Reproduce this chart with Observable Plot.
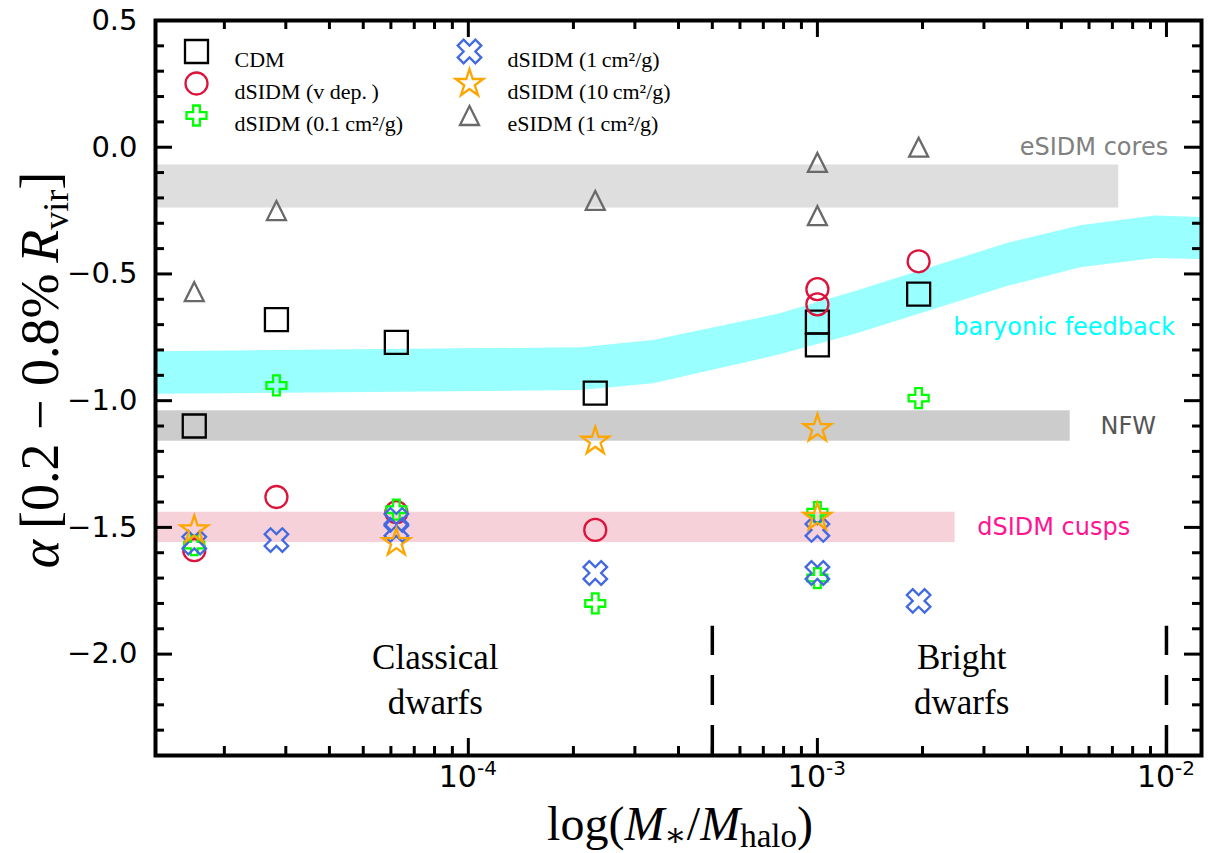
<!DOCTYPE html>
<html>
<head>
<meta charset="utf-8">
<script src="https://cdn.jsdelivr.net/npm/d3@7"></script>
<script src="https://cdn.jsdelivr.net/npm/@observablehq/plot@0.6"></script>
<style>
  body { margin: 0; background: #fff; }
  #chart svg { display: block; }
</style>
</head>
<body>
<div id="chart"></div>
<script>
// ---- Inner-slope measurements, alpha at 0.2-0.8% R_vir, vs stellar-to-halo mass ratio ----
const cdmRatio  = [1.64e-5, 2.82e-5, 6.22e-5, 2.31e-4, 1.0e-3, 1.0e-3, 1.95e-3];
const cdmAlpha  = [-1.10, -0.68, -0.77, -0.97, -0.69, -0.78, -0.58];

const vdepRatio = [1.64e-5, 2.82e-5, 6.22e-5, 2.31e-4, 1.0e-3, 1.0e-3, 1.95e-3];
const vdepAlpha = [-1.59, -1.38, -1.44, -1.51, -0.56, -0.62, -0.45];

const s01Ratio  = [1.64e-5, 2.82e-5, 6.22e-5, 2.31e-4, 1.0e-3, 1.0e-3, 1.95e-3];
const s01Alpha  = [-1.57, -0.94, -1.43, -1.80, -1.44, -1.70, -0.99];

const s1Ratio   = [1.64e-5, 2.82e-5, 6.22e-5, 6.22e-5, 2.31e-4, 1.0e-3, 1.0e-3, 1.95e-3];
const s1Alpha   = [-1.56, -1.55, -1.47, -1.51, -1.68, -1.51, -1.68, -1.79];

const s10Ratio  = [1.64e-5, 6.22e-5, 2.31e-4, 1.0e-3, 1.0e-3];
const s10Alpha  = [-1.51, -1.56, -1.16, -1.11, -1.46];

const eRatio    = [1.64e-5, 2.82e-5, 2.31e-4, 1.0e-3, 1.0e-3, 1.95e-3];
const eAlpha    = [-0.57, -0.25, -0.21, -0.06, -0.27, 0.00];

// Baryonic-feedback expectation (shaded band)
const baryRatio = [1.25e-5, 2.11e-4, 3.39e-4, 7.78e-4, 1.30e-3, 3.48e-3, 5.68e-3, 9.29e-3, 1.41e-2];
const baryLow   = [-0.975, -0.960, -0.933, -0.820, -0.736, -0.551, -0.476, -0.439, -0.445];
const baryHigh  = [-0.807, -0.791, -0.763, -0.658, -0.567, -0.381, -0.310, -0.271, -0.279];

// Reference slope ranges
const bandName  = ["eSIDM cores", "NFW", "dSIDM cusps"];
const bandLow   = [-0.24, -1.16, -1.56];
const bandHigh  = [-0.07, -1.04, -1.44];
const bandEnd   = [7.3e-3, 5.3e-3, 2.48e-3];

// Band annotations
const noteText  = ["eSIDM cores", "baryonic feedback", "NFW", "dSIDM cusps"];
const noteRatio = [3.8e-3, 2.45e-3, 6.47e-3, 2.87e-3];
const noteAlpha = [0.0, -0.71, -1.10, -1.50];

// Dwarf classes and their boundaries
const regionText  = ["Classical\ndwarfs", "Bright\ndwarfs"];
const regionRatio = [8.04e-5, 2.59e-3];
const regionAlpha = [-2.09, -2.09];
const boundaryRatio = [5.0e-4, 1.0e-2];
const boundaryTop = -1.89;

// Axis ticks
const xMajor = [1e-4, 1e-3, 1e-2];
const xMajorExp = ["-4", "-3", "-2"];
const yMajor = [-2.0, -1.5, -1.0, -0.5, 0.0, 0.5];
const yMajorLabel = ["\u22122.0", "\u22121.5", "\u22121.0", "\u22120.5", "0.0", "0.5"];

const legendLabels = ["CDM", "dSIDM (v dep.\u2009)", "dSIDM (0.1\u2009cm\u00B2/g)",
                      "dSIDM (1\u2009cm\u00B2/g)", "dSIDM (10\u2009cm\u00B2/g)", "eSIDM (1\u2009cm\u00B2/g)"];

// ---- layout ----
const W = 1208, H = 853;
const mL = 155, mR = 7, mT = 20, mB = 98;
const frameW = W - mL - mR, frameH = H - mT - mB;
const xDomain = [1.27e-5, 1.26e-2];
const yDomain = [-2.4, 0.5];

// ---- marker shapes (size = pi r^2) ----
const rad = (size) => Math.sqrt(size / Math.PI);
function polygon(ctx, pts) {
  ctx.moveTo(pts[0][0], pts[0][1]);
  for (let i = 1; i < pts.length; ++i) ctx.lineTo(pts[i][0], pts[i][1]);
  ctx.closePath();
}
function plusPoints(r, rot) {
  const w = r / 3;
  const base = [[w,-r],[w,-w],[r,-w],[r,w],[w,w],[w,r],[-w,r],[-w,w],[-r,w],[-r,-w],[-w,-w],[-w,-r]];
  const c = Math.cos(rot), s = Math.sin(rot);
  return base.map(([x, y]) => [x * c - y * s, x * s + y * c]);
}
const symSquare = {draw(ctx, size) { const r = rad(size); ctx.rect(-r, -r, 2 * r, 2 * r); }};
const symCircle = {draw(ctx, size) { const r = rad(size); ctx.moveTo(r, 0); ctx.arc(0, 0, r, 0, 2 * Math.PI); }};
const symPlus   = {draw(ctx, size) { polygon(ctx, plusPoints(rad(size), 0)); }};
const symX      = {draw(ctx, size) { polygon(ctx, plusPoints(rad(size), Math.PI / 4)); }};
const symStar   = {draw(ctx, size) {
  const R = rad(size), ri = R * 0.382, pts = [];
  for (let i = 0; i < 10; ++i) {
    const a = -Math.PI / 2 + i * Math.PI / 5, q = i % 2 ? ri : R;
    pts.push([q * Math.cos(a), q * Math.sin(a)]);
  }
  polygon(ctx, pts);
}};
const symTri    = {draw(ctx, size) { const r = rad(size); polygon(ctx, [[0, -r], [r, r], [-r, r]]); }};

const series = [
  {ratio: cdmRatio,  alpha: cdmAlpha,  symbol: symSquare, r: 11.5, color: "black"},
  {ratio: vdepRatio, alpha: vdepAlpha, symbol: symCircle, r: 11,   color: "crimson"},
  {ratio: s01Ratio,  alpha: s01Alpha,  symbol: symPlus,   r: 10,   color: "#00ff00"},
  {ratio: s1Ratio,   alpha: s1Alpha,   symbol: symX,      r: 12.5, color: "royalblue"},
  {ratio: s10Ratio,  alpha: s10Alpha,  symbol: symStar,   r: 14.5, color: "orange"},
  {ratio: eRatio,    alpha: eAlpha,    symbol: symTri,    r: 9.5,  color: "dimgray"}
];

const bandColors = ["#dedede", "#cccccc", "#f6d1d9"];
const noteColors = ["#808080", "cyan", "#555555", "deeppink"];

const bands = bandName.map((name, i) => ({name, lo: bandLow[i], hi: bandHigh[i], end: bandEnd[i], fill: bandColors[i]}));
const bary = baryRatio.map((x, i) => ({x, lo: baryLow[i], hi: baryHigh[i]}));
const notes = noteText.map((t, i) => ({t, x: noteRatio[i], y: noteAlpha[i], c: noteColors[i]}));
const regions = regionText.map((t, i) => ({t, x: regionRatio[i], y: regionAlpha[i]}));

// minor ticks
const xMinor = [];
for (const dec of [1e-5, 1e-4, 1e-3, 1e-2]) for (let k = 2; k <= 9; ++k) {
  const v = k * dec;
  if (v > xDomain[0] && v < xDomain[1]) xMinor.push(v);
}
const yMinor = d3.range(-24, 6).map(i => i / 10).filter(v => Math.abs(v * 2 - Math.round(v * 2)) > 1e-6);

const serif = "'Liberation Serif', 'DejaVu Serif', serif";
const sans = "'DejaVu Sans', sans-serif";

const marks = [
  Plot.rect(bands, {x1: () => xDomain[0], x2: "end", y1: "lo", y2: "hi", fill: "fill"}),
  Plot.areaY(bary, {x: "x", y1: "lo", y2: "hi", fill: "#99ffff", clip: true}),
  Plot.ruleX(boundaryRatio, {x: d => d, y1: yDomain[0], y2: boundaryTop, stroke: "black", strokeWidth: 3.5, strokeDasharray: "30,20"}),
  Plot.text(notes, {x: "x", y: "y", text: "t", fill: "c", textAnchor: "start", fontFamily: sans, fontSize: 24}),
  Plot.text(regions, {x: "x", y: "y", text: "t", textAnchor: "middle", lineAnchor: "middle", lineHeight: 1.3, fontFamily: serif, fontSize: 35})
];

for (const s of series) {
  const rows = s.ratio.map((x, i) => ({x, y: s.alpha[i]}));
  marks.push(Plot.dot(rows, {x: "x", y: "y", symbol: s.symbol, r: s.r, stroke: s.color, strokeWidth: 2.3, fill: "none"}));
}

// inward ticks on all four sides
const tk = {stroke: "black", strokeWidth: 3};
marks.push(
  Plot.tickY(yMajor, {y: d => d, ...tk, insetRight: frameW - 17}),
  Plot.tickY(yMajor, {y: d => d, ...tk, insetLeft: frameW - 17}),
  Plot.tickY(yMinor, {y: d => d, ...tk, insetRight: frameW - 9}),
  Plot.tickY(yMinor, {y: d => d, ...tk, insetLeft: frameW - 9}),
  Plot.tickX(xMajor, {x: d => d, ...tk, insetTop: frameH - 17}),
  Plot.tickX(xMajor, {x: d => d, ...tk, insetBottom: frameH - 17}),
  Plot.tickX(xMinor, {x: d => d, ...tk, insetTop: frameH - 9}),
  Plot.tickX(xMinor, {x: d => d, ...tk, insetBottom: frameH - 9}),
  Plot.axisY({ticks: yMajor, tickSize: 0, tickPadding: 18, tickFormat: (d) => yMajorLabel[yMajor.indexOf(d)], fontSize: 29, fontFamily: sans, fill: "black"}),
  Plot.frame({stroke: "black", strokeWidth: 4})
);

// legend inside the frame, two columns
const legendPos = [[41, 31], [41, 63], [41, 95], [314, 31], [314, 63], [314, 95]];
series.forEach((s, i) => {
  const [dx, dy] = legendPos[i];
  marks.push(Plot.dot([0], {frameAnchor: "top-left", dx, dy, symbol: s.symbol, r: s.r, stroke: s.color, strokeWidth: 2.3, fill: "none"}));
  marks.push(Plot.text([legendLabels[i]], {frameAnchor: "top-left", dx: dx + 38, dy, text: d => d, textAnchor: "start", fontFamily: serif, fontSize: 22, fill: "black"}));
});

const chart = Plot.plot({
  width: W, height: H,
  marginLeft: mL, marginRight: mR, marginTop: mT, marginBottom: mB,
  x: {type: "log", domain: xDomain},
  y: {domain: yDomain},
  axis: null,
  style: {background: "white", overflow: "visible"},
  marks
});

const svg = d3.select(chart);
const xScale = chart.scale("x");

// decade tick labels 10^n with a raised exponent
const xl = svg.append("g").attr("font-family", sans).attr("fill", "black").attr("text-anchor", "middle");
xMajor.forEach((v, i) => {
  const t = xl.append("text").attr("x", xScale.apply(v)).attr("y", 787).attr("font-size", 30);
  t.append("tspan").text("10");
  t.append("tspan").attr("font-size", 20).attr("dy", -12).text(xMajorExp[i]);
});

// axis titles with math-style sub/superscripts
const xt = svg.append("text")
  .attr("x", mL + frameW / 2 + 2).attr("y", 840)
  .attr("text-anchor", "middle").attr("font-family", serif).attr("font-size", 48).attr("fill", "black");
xt.append("tspan").text("log(");
xt.append("tspan").attr("font-style", "italic").text("M");
xt.append("tspan").attr("font-size", 33).attr("dy", 6).text("\u2217");
xt.append("tspan").attr("dy", -6).text("/");
xt.append("tspan").attr("font-style", "italic").text("M");
xt.append("tspan").attr("font-size", 33).attr("dy", 7).text("halo");
xt.append("tspan").attr("dy", -7).text(")");

const yt = svg.append("text")
  .attr("transform", `translate(58, 370) rotate(-90)`)
  .attr("text-anchor", "middle").attr("font-family", serif).attr("font-size", 54).attr("fill", "black");
yt.append("tspan").attr("font-style", "italic").text("\u03B1");
yt.append("tspan").text("\u2009[0.2 \u2212 0.8%\u2009");
yt.append("tspan").attr("font-style", "italic").text("R");
yt.append("tspan").attr("font-size", 36).attr("dy", 10).text("vir");
yt.append("tspan").attr("dy", -10).text("]");

document.getElementById("chart").appendChild(chart);
</script>
</body>
</html>
